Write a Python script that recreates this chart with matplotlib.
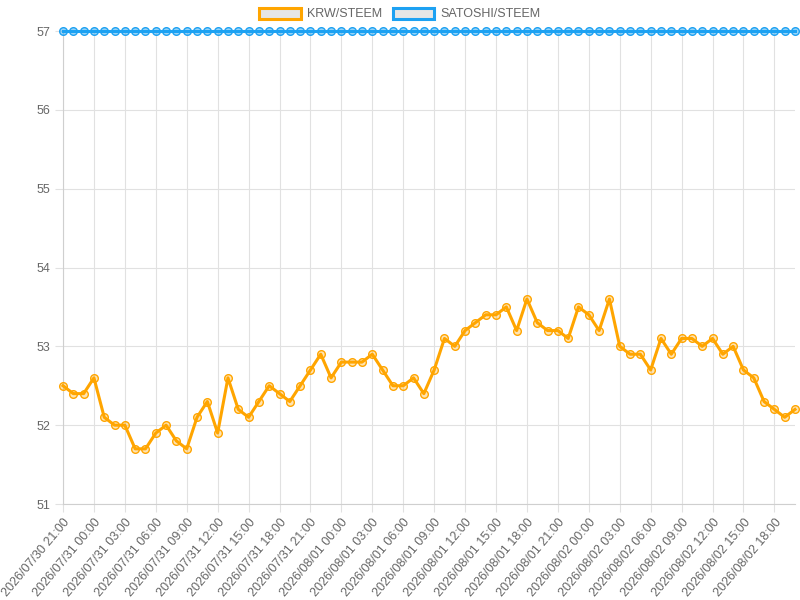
import matplotlib
matplotlib.use("Agg")
import matplotlib.pyplot as plt
from matplotlib.patches import Patch
import numpy as np
import pandas as pd

ORANGE = "#ffa500"
BLUE = "#1da1f2"
GRID = "#e1e1e1"
TEXT = "#666666"

# hourly samples, starting 2026/07/30 21:00
times = pd.date_range("2026-07-30 21:00", periods=72, freq="h")

krw_steem = [
    52.5, 52.4, 52.4, 52.6, 52.1, 52.0, 52.0, 51.7, 51.7, 51.9,
    52.0, 51.8, 51.7, 52.1, 52.3, 51.9, 52.6, 52.2, 52.1, 52.3,
    52.5, 52.4, 52.3, 52.5, 52.7, 52.9, 52.6, 52.8, 52.8, 52.8,
    52.9, 52.7, 52.5, 52.5, 52.6, 52.4, 52.7, 53.1, 53.0, 53.2,
    53.3, 53.4, 53.4, 53.5, 53.2, 53.6, 53.3, 53.2, 53.2, 53.1,
    53.5, 53.4, 53.2, 53.6, 53.0, 52.9, 52.9, 52.7, 53.1, 52.9,
    53.1, 53.1, 53.0, 53.1, 52.9, 53.0, 52.7, 52.6, 52.3, 52.2,
    52.1, 52.2,
]
satoshi_steem = [57] * 72

y_ticks = [51, 52, 53, 54, 55, 56, 57]

plt.rcParams["font.family"] = ["Liberation Sans", "DejaVu Sans"]

fig = plt.figure(figsize=(8, 6), dpi=100)
ax = fig.add_axes([63 / 800, 1 - 504 / 600, 732 / 800, 473 / 600])

x = np.arange(len(times))
labels = [t.strftime("%Y/%m/%d %H:%M") for t in times]

ax.plot(x, satoshi_steem, color=BLUE, lw=2.2, marker="o", ms=5.5,
        mfc=(0.11, 0.63, 0.95, 0.45), mec=BLUE, mew=1, clip_on=False, zorder=3)
ax.plot(x, krw_steem, color=ORANGE, lw=2.2, marker="o", ms=5.5,
        mfc=(1.0, 0.65, 0.0, 0.3), mec=ORANGE, mew=1, clip_on=False, zorder=4)

ax.set_xlim(0, len(x) - 1)
ax.set_ylim(51, 57)
ax.set_yticks(y_ticks)
ax.set_xticks(x[::3])
ax.set_xticklabels(labels[::3], rotation=50, ha="right", va="top",
                   rotation_mode="anchor")

ax.grid(True, color=GRID, lw=0.8)
ax.set_axisbelow(True)
for s in ["top", "right"]:
    ax.spines[s].set_visible(False)
for s in ["left", "bottom"]:
    ax.spines[s].set_color("#cfcfcf")
    ax.spines[s].set_linewidth(0.8)
ax.tick_params(axis="both", colors=GRID, labelcolor=TEXT, labelsize=9,
               length=6, width=0.8, pad=3)

handles = [Patch(facecolor="#e6e6e6", edgecolor=ORANGE, lw=2.2, label="KRW/STEEM"),
           Patch(facecolor="#e6e6e6", edgecolor=BLUE, lw=2.2, label="SATOSHI/STEEM")]
fig.legend(handles=handles, loc="center", bbox_to_anchor=(0.5, 1 - 14 / 600),
           ncol=2, frameon=False, fontsize=9, handlelength=3.3,
           handleheight=1.0, handletextpad=0.55, columnspacing=0.8,
           labelcolor=TEXT)

fig.savefig("out.png", dpi=100)
